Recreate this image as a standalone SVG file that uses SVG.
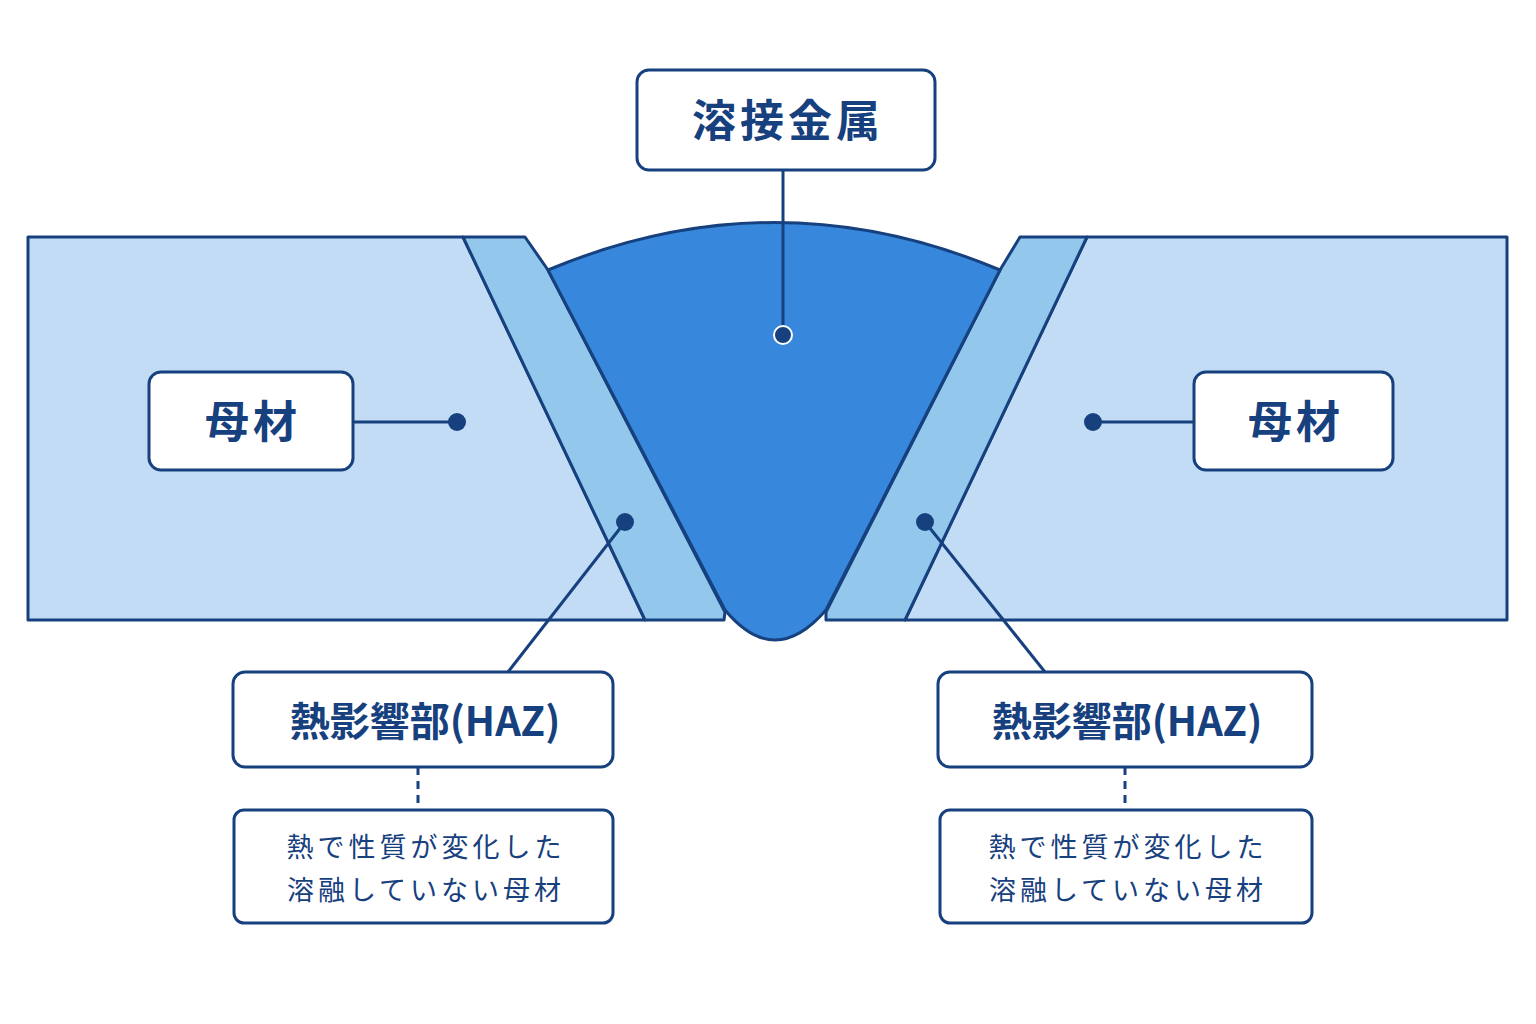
<svg xmlns="http://www.w3.org/2000/svg" width="1536" height="1024" viewBox="0 0 1536 1024">
<style>
.s{stroke:#17407e;stroke-width:3;stroke-linejoin:round}
.box{fill:#fff;stroke:#17407e;stroke-width:3}
.t{font-family:"Noto Sans CJK JP","Noto Sans",sans-serif;fill:#17407e;text-anchor:middle}
.big{font-size:44px;font-weight:bold;letter-spacing:4px}
.mid{font-size:40px;font-weight:bold}
.sm{font-size:27px;letter-spacing:4px}
.ln{stroke:#17407e;stroke-width:3;fill:none}
.dot{fill:#17407e}
</style>
<rect width="1536" height="1024" fill="#fff"/>
<g id="plate-left"><polygon class="s" fill="#c2dcf5" points="28,237 463,237 645,620 28,620"/></g>
<g id="haz-left"><polygon class="s" fill="#93c8ec" points="463,237 525,237 548,270 725,612 724,620 645,620"/></g>
<g id="plate-right"><polygon class="s" fill="#c2dcf5" points="1087,237 1507,237 1507,620 905,620"/></g>
<g id="haz-right"><polygon class="s" fill="#93c8ec" points="1020,237 1087,237 905,620 826,620 826,612 1000,270"/></g>
<g id="weld"><path class="s" fill="#3788dc" d="M548,270 Q775,175 1000,270 L826,610 Q800,640 775,640 Q750,640 725,610 Z"/></g>
<g id="connectors">
<line class="ln" x1="783" y1="170" x2="783" y2="335"/><circle class="dot" cx="783" cy="335" r="9" stroke="#fff" stroke-width="2"/>
<line class="ln" x1="353" y1="422" x2="457" y2="422"/><circle class="dot" cx="457" cy="422" r="9"/>
<line class="ln" x1="1194" y1="422" x2="1093" y2="422"/><circle class="dot" cx="1093" cy="422" r="9"/>
<line class="ln" x1="508" y1="672" x2="625" y2="522" stroke-width="2.5"/><circle class="dot" cx="625" cy="522" r="9"/>
<line class="ln" x1="1045" y1="672" x2="925" y2="522" stroke-width="2.5"/><circle class="dot" cx="925" cy="522" r="9"/>
<line class="ln" x1="418" y1="767" x2="418" y2="810" stroke-dasharray="8,6"/>
<line class="ln" x1="1125" y1="767" x2="1125" y2="810" stroke-dasharray="8,6"/>
</g>
<g id="label-weld"><rect class="box" x="637" y="70" width="298" height="100" rx="12"/><text class="t big" x="788" y="137">溶接金属</text></g>
<g id="label-base-left"><rect class="box" x="149" y="372" width="204" height="98" rx="12"/><text class="t big" x="253" y="438">母材</text></g>
<g id="label-base-right"><rect class="box" x="1194" y="372" width="199" height="98" rx="12"/><text class="t big" x="1296" y="438">母材</text></g>
<g id="label-haz-left"><rect class="box" x="233" y="672" width="380" height="95" rx="12"/><text class="t mid" x="425" y="736">熱影響部(HAZ)</text></g>
<g id="label-haz-right"><rect class="box" x="938" y="672" width="374" height="95" rx="12"/><text class="t mid" x="1127" y="736">熱影響部(HAZ)</text></g>
<g id="desc-left"><rect class="box" x="234" y="810" width="379" height="113" rx="10" stroke-width="2.5"/><text class="t sm" x="426" y="857">熱で性質が変化した</text><text class="t sm" x="426" y="900">溶融していない母材</text></g>
<g id="desc-right"><rect class="box" x="940" y="810" width="372" height="113" rx="10" stroke-width="2.5"/><text class="t sm" x="1128" y="857">熱で性質が変化した</text><text class="t sm" x="1128" y="900">溶融していない母材</text></g>
</svg>
